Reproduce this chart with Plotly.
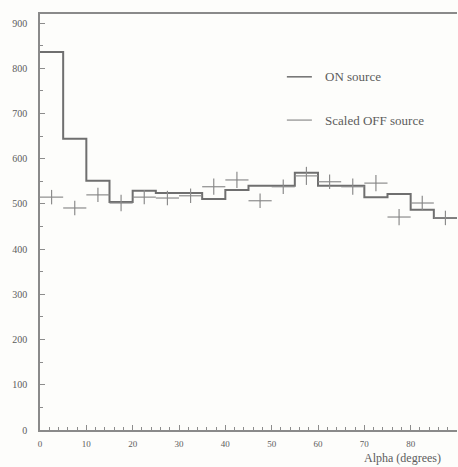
import plotly.graph_objects as go

# Alpha bins (degrees), 5-degree wide
bin_edges = [0, 5, 10, 15, 20, 25, 30, 35, 40, 45, 50, 55, 60, 65, 70, 75, 80, 85, 90]
bin_centers = [2.5, 7.5, 12.5, 17.5, 22.5, 27.5, 32.5, 37.5, 42.5, 47.5,
               52.5, 57.5, 62.5, 67.5, 72.5, 77.5, 82.5, 87.5]

# ON-source counts per bin
on_counts = [836, 644, 551, 504, 529, 524, 524, 511, 531, 540,
             540, 569, 540, 540, 515, 522, 487, 469]

# Scaled OFF-source counts per bin and their errors
off_counts = [515, 491, 520, 502, 515, 513, 518, 538, 553, 507,
              538, 562, 549, 538, 546, 471, 502, 469]
off_errors = [16, 16, 16, 18, 16, 16, 16, 18, 18, 16,
              16, 20, 16, 18, 18, 18, 16, 16]

y_ticks = [0, 100, 200, 300, 400, 500, 600, 700, 800, 900]
x_ticks = [0, 10, 20, 30, 40, 50, 60, 70, 80, 90]

legend_labels = ["ON source", "Scaled OFF source"]

ink = "#6f6f6f"
ink_light = "#8c8c8c"
text_col = "#5c5c5c"
font_family = "Liberation Serif, DejaVu Serif, serif"

fig = go.Figure()

# ON-source histogram drawn as a step line
fig.add_trace(go.Scatter(
    x=bin_edges,
    y=on_counts + [on_counts[-1]],
    mode="lines",
    line=dict(shape="hv", color=ink, width=2),
    showlegend=False,
    hoverinfo="skip",
))

# Scaled OFF-source points as crosses (bin width + statistical error)
fig.add_trace(go.Scatter(
    x=bin_centers,
    y=off_counts,
    mode="markers",
    marker=dict(size=1, color=ink_light),
    error_x=dict(type="constant", value=2.5, color=ink_light, thickness=1.2, width=0),
    error_y=dict(type="data", array=off_errors, color=ink_light, thickness=1.2, width=0),
    showlegend=False,
))

# Legend drawn in the upper right of the plot area
legend_y = [0.849, 0.745]
legend_colors = [ink, ink_light]
legend_widths = [1.5, 1.2]
for label, ly, col, lw in zip(legend_labels, legend_y, legend_colors, legend_widths):
    fig.add_shape(type="line", xref="paper", yref="paper",
                  x0=0.592, x1=0.652, y0=ly, y1=ly,
                  line=dict(color=col, width=lw))
    fig.add_annotation(xref="paper", yref="paper", x=0.679, y=ly,
                       text=label, showarrow=False, xanchor="left", yanchor="middle",
                       font=dict(family=font_family, size=13, color=text_col))

# Axis title, placed at the lower right
fig.add_annotation(xref="paper", yref="paper", x=(362 - 40) / 417, y=-0.068,
                   text="Alpha (degrees)", showarrow=False,
                   xanchor="left", yanchor="middle",
                   font=dict(family=font_family, size=12, color=text_col))

fig.update_layout(
    width=458, height=467,
    margin=dict(l=40, r=1, t=14, b=37),
    paper_bgcolor="#fdfdfb",
    plot_bgcolor="#fdfdfb",
    showlegend=False,
    font=dict(family=font_family, size=8, color=text_col),
)

fig.update_xaxes(
    range=[0, 90],
    tickvals=x_ticks,
    ticktext=[str(v) for v in x_ticks],
    ticks="inside", ticklen=5, tickcolor=ink_light, tickwidth=1,
    minor=dict(dtick=2, ticks="inside", ticklen=3, tickcolor=ink_light),
    ticklabelstandoff=4,
    showline=True, linecolor="#8a8a8a", linewidth=1.5, mirror=True,
    showgrid=False, zeroline=False,
    tickfont=dict(family=font_family, size=9, color=text_col),
)

fig.update_yaxes(
    range=[0, 920],
    tickvals=y_ticks,
    ticktext=[str(v) for v in y_ticks],
    ticks="inside", ticklen=5, tickcolor=ink_light, tickwidth=1,
    minor=dict(dtick=50, ticks="inside", ticklen=3, tickcolor=ink_light),
    ticklabelstandoff=9,
    showline=True, linecolor="#8a8a8a", linewidth=1.5,
    showgrid=False, zeroline=False,
    tickfont=dict(family=font_family, size=10, color=text_col),
)

fig.write_html("out.html")
